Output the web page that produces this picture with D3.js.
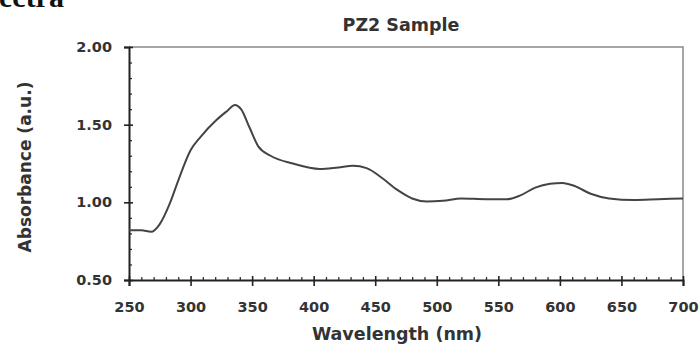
<!DOCTYPE html>
<html><head><meta charset="utf-8">
<script src="https://cdn.jsdelivr.net/npm/d3@7/dist/d3.min.js"></script>
<style>body{margin:0;background:#fff}svg{display:block}</style>
</head><body>
<script>
const wavelength = [250,260,268,275,283,290,300,308,321,330,336,341,348,355,365,383,405,420,432,443,455,468,480,492,505,520,540,557,568,580,592,602,612,625,640,660,680,700];
const absorbance = [0.82,0.82,0.81,0.86,0.99,1.14,1.335,1.42,1.53,1.59,1.627,1.60,1.48,1.36,1.30,1.25,1.215,1.225,1.235,1.22,1.16,1.08,1.025,1.005,1.01,1.025,1.02,1.02,1.045,1.095,1.12,1.125,1.105,1.055,1.025,1.015,1.02,1.025];
const xTicks = [250,300,350,400,450,500,550,600,650,700];
const yTicks = [0.5,1.0,1.5,2.0];
const title = "PZ2 Sample", xLabel = "Wavelength (nm)", yLabel = "Absorbance (a.u.)", cutText = "ectra";

const W = 699, H = 350;
const m = {l:129, r:683, t:47, b:280};
const svg = d3.select("body").append("svg").attr("width", W).attr("height", H);
const x = d3.scaleLinear().domain([250,700]).range([m.l, m.r]);
const y = d3.scaleLinear().domain([0.5,2.0]).range([m.b, m.t]);
const font = "'DejaVu Sans', sans-serif";

// frame top/right
svg.append("path").attr("d", `M${m.l},${m.t}H${m.r}V${m.b}`).attr("fill","none").attr("stroke","#888").attr("stroke-width",1.5);

// minor ticks
const xMinor = d3.range(250,701,10).filter(v=>v%50!==0);
svg.append("g").attr("transform",`translate(0,${m.b})`).call(d3.axisTop(x).tickValues(xMinor).tickSize(3).tickFormat("")).call(g=>g.select(".domain").remove()).selectAll("line").attr("stroke","#333").attr("stroke-width",1.3);
const yMinor = d3.range(5,21).map(v=>v/10).filter(v=>Math.abs(v*2-Math.round(v*2))>1e-6);
svg.append("g").attr("transform",`translate(${m.l},0)`).call(d3.axisRight(y).tickValues(yMinor).tickSize(3).tickFormat("")).call(g=>g.select(".domain").remove()).selectAll("line").attr("stroke","#333").attr("stroke-width",1.3);

// major axes
const gx = svg.append("g").attr("transform",`translate(0,${m.b})`).call(d3.axisBottom(x).tickValues(xTicks).tickSize(6).tickPadding(16).tickFormat(d3.format("d")));
gx.select(".domain").attr("stroke","#222").attr("stroke-width",2);
gx.selectAll(".tick line").attr("y1",-4).attr("stroke","#222").attr("stroke-width",1.6);
gx.selectAll("text").attr("font-family",font).attr("font-weight","bold").attr("font-size","14.5px").attr("fill","#333");

const gy = svg.append("g").attr("transform",`translate(${m.l},0)`).call(d3.axisLeft(y).tickValues(yTicks).tickSize(5).tickPadding(12).tickFormat(d3.format(".2f")));
gy.select(".domain").attr("stroke","#222").attr("stroke-width",2);
gy.selectAll(".tick line").attr("x1",4).attr("stroke","#222").attr("stroke-width",1.6);
gy.selectAll("text").attr("font-family",font).attr("font-weight","bold").attr("font-size","14.5px").attr("fill","#333");

// line
const data = wavelength.map((w,i)=>[w,absorbance[i]]);
svg.append("path").datum(data).attr("fill","none").attr("stroke","#444").attr("stroke-width",2)
  .attr("d", d3.line().x(d=>x(d[0])).y(d=>y(d[1])).curve(d3.curveMonotoneX));

// texts
svg.append("text").attr("x",401).attr("y",31).attr("text-anchor","middle").attr("font-family",font).attr("font-weight","bold").attr("font-size","17.5px").attr("fill","#333").text(title);
svg.append("text").attr("x",397).attr("y",340).attr("text-anchor","middle").attr("font-family",font).attr("font-weight","bold").attr("font-size","17.5px").attr("fill","#333").text(xLabel);
svg.append("text").attr("transform","translate(31,167) rotate(-90)").attr("text-anchor","middle").attr("font-family",font).attr("font-weight","bold").attr("font-size","17px").attr("fill","#333").text(yLabel);
svg.append("text").attr("x",-1).attr("y",7).attr("font-family","'Liberation Serif', serif").attr("font-weight","bold").attr("font-size","30px").attr("fill","#111").text(cutText);
</script>
</body></html>
